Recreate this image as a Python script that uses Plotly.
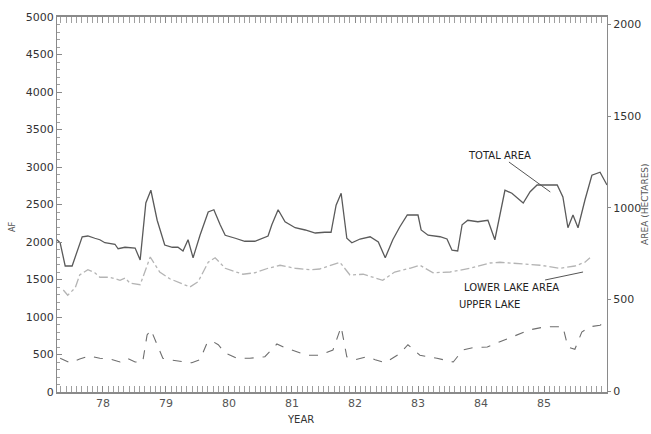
import plotly.graph_objects as go

# Total area (solid)
total_year = [77.27, 77.32, 77.40, 77.51, 77.67, 77.76, 77.87, 77.95, 78.03, 78.19, 78.24, 78.35, 78.51, 78.59,
              78.68, 78.76, 78.86, 78.98, 79.10, 79.19, 79.27, 79.35, 79.43, 79.54, 79.67, 79.76, 79.86, 79.94,
              80.10, 80.25, 80.41, 80.52, 80.62, 80.68, 80.78, 80.89, 81.05, 81.21, 81.37, 81.52, 81.62, 81.70,
              81.78, 81.87, 81.95, 82.08, 82.24, 82.37, 82.48, 82.60, 82.71, 82.83, 83.00, 83.05, 83.16, 83.35,
              83.46, 83.54, 83.63, 83.70, 83.79, 83.95, 84.11, 84.22, 84.30, 84.38, 84.49, 84.67, 84.78, 84.89,
              85.06, 85.21, 85.30, 85.38, 85.46, 85.54, 85.65, 85.76, 85.89, 86.00]
total_val = [2030, 1990, 1680, 1680, 2070, 2080, 2050, 2030, 1990, 1970, 1910, 1930, 1920, 1760,
             2520, 2690, 2290, 1960, 1930, 1930, 1880, 2030, 1790, 2090, 2400, 2430, 2230, 2090,
             2050, 2010, 2010, 2050, 2080, 2230, 2430, 2270, 2190, 2160, 2120, 2130, 2130, 2490,
             2650, 2050, 1990, 2040, 2070, 2000, 1790, 2030, 2200, 2360, 2360, 2160, 2090, 2070,
             2040, 1890, 1880, 2230, 2290, 2270, 2290, 2030, 2360, 2690, 2650, 2520, 2670, 2760,
             2760, 2760, 2600, 2190, 2360, 2190, 2560, 2890, 2930, 2760]

# Lower lake area (dash-dot, light)
lower_year = [77.37, 77.44, 77.56, 77.63, 77.76, 77.87, 77.95, 78.11, 78.27, 78.35, 78.43, 78.59, 78.75, 78.90,
              79.06, 79.22, 79.38, 79.51, 79.67, 79.78, 79.94, 80.22, 80.41, 80.62, 80.81, 81.05, 81.29, 81.44,
              81.60, 81.76, 81.92, 82.13, 82.44, 82.63, 82.87, 83.03, 83.24, 83.51, 83.83, 84.14, 84.30, 84.62,
              84.94, 85.25, 85.49, 85.65, 85.73]
lower_val = [1360, 1290, 1390, 1560, 1630, 1590, 1530, 1530, 1490, 1520, 1450, 1430, 1800, 1600,
             1510, 1450, 1400, 1470, 1730, 1790, 1650, 1570, 1590, 1650, 1690, 1650, 1630, 1640,
             1680, 1730, 1560, 1570, 1490, 1600, 1650, 1690, 1590, 1600, 1650, 1720, 1730, 1710,
             1690, 1650, 1680, 1730, 1790]

# Upper lake (dashed)
upper_year = [77.32, 77.48, 77.63, 77.79, 77.95, 78.11, 78.27, 78.38, 78.51, 78.63, 78.70, 78.76, 78.86, 78.95,
              79.06, 79.19, 79.30, 79.41, 79.54, 79.65, 79.73, 79.83, 79.94, 80.13, 80.33, 80.57, 80.76, 80.89,
              81.08, 81.24, 81.44, 81.65, 81.78, 81.87, 82.00, 82.19, 82.32, 82.48, 82.71, 82.84, 83.03, 83.30,
              83.56, 83.71, 83.87, 84.10, 84.30, 84.54, 84.78, 85.02, 85.30, 85.38, 85.49, 85.60, 85.73, 85.89,
              85.97]
upper_val = [450, 390, 440, 480, 450, 440, 400, 450, 400, 400, 760, 830, 630, 450,
             430, 410, 400, 390, 430, 650, 680, 630, 520, 450, 450, 470, 640, 590,
             530, 490, 490, 560, 870, 470, 430, 470, 430, 390, 510, 630, 490, 450,
             400, 560, 590, 600, 670, 750, 830, 870, 870, 600, 570, 800, 870, 890,
             930]

year_ticks = [78, 79, 80, 81, 82, 83, 84, 85]
year_labels = ["78", "79", "80", "81", "82", "83", "84", "85"]
af_ticks = [0, 500, 1000, 1500, 2000, 2500, 3000, 3500, 4000, 4500, 5000]
ha_ticks = [0, 500, 1000, 1500, 2000]

FONT = "DejaVu Sans"
TXT = "#333333"
AX = "#8a8a8a"

fig = go.Figure()
fig.add_trace(go.Scatter(x=lower_year, y=lower_val, mode="lines",
                         line=dict(color="#b4b4b4", width=1.3, dash="dashdot"), name="LOWER LAKE AREA"))
fig.add_trace(go.Scatter(x=upper_year, y=upper_val, mode="lines",
                         line=dict(color="#6e6e6e", width=1.1, dash="dash"), name="UPPER LAKE"))
fig.add_trace(go.Scatter(x=total_year, y=total_val, mode="lines",
                         line=dict(color="#5a5a5a", width=1.3), name="TOTAL AREA"))
# invisible trace to activate right axis
fig.add_trace(go.Scatter(x=[year_ticks[0]], y=[ha_ticks[0]], yaxis="y2", mode="markers",
                         marker=dict(opacity=0), showlegend=False, hoverinfo="skip"))

fig.update_layout(
    width=651, height=434,
    margin=dict(l=57, r=44, t=17, b=42, autoexpand=False),
    paper_bgcolor="white", plot_bgcolor="white",
    showlegend=False,
    font=dict(family=FONT, size=11, color=TXT),
    xaxis=dict(range=[77.27, 86.0], tickmode="array", tickvals=year_ticks, ticktext=year_labels,
               automargin=False,
               showgrid=False, zeroline=False, showline=True, linecolor=AX, linewidth=1.5,
               mirror="allticks", ticks="inside", ticklen=6, tickcolor=AX,
               minor=dict(dtick=1/12, tick0=78, ticks="inside", ticklen=3, tickcolor="#a0a0a0", showgrid=False),
               tickfont=dict(size=11, color="#555555")),
    yaxis=dict(range=[0, 5000], tickvals=af_ticks, showgrid=False, zeroline=False, automargin=False,
               showline=True, linecolor=AX, linewidth=1.2, ticks="inside", ticklen=5, tickcolor=AX,
               minor=dict(dtick=100, ticks="inside", ticklen=3, tickcolor="#a0a0a0", showgrid=False),
               tickfont=dict(size=11, color=TXT)),
    yaxis2=dict(overlaying="y", side="right", range=[-5, 2040], tickvals=ha_ticks, automargin=False,
                showgrid=False, zeroline=False, showline=True, linecolor=AX, linewidth=1.2,
                ticks="outside", ticklen=3, tickcolor=AX, tickfont=dict(size=11, color=TXT)),
    annotations=[
        dict(text="AF", xref="paper", yref="paper", x=-0.082, y=0.44, xanchor="center", textangle=-90,
             showarrow=False, font=dict(size=8, color="#555555")),
        dict(text="AREA (HECTARES)", xref="paper", yref="paper", x=1.068, y=0.5, xanchor="center",
             textangle=-90, showarrow=False, font=dict(size=9, color="#555555")),
        dict(text="YEAR", xref="paper", yref="paper", x=0.442, y=-0.093, showarrow=False,
             font=dict(size=10, color=TXT)),
        dict(text="TOTAL AREA", x=85.10, y=2667, ax=84.29, ay=3160, axref="x", ayref="y",
             showarrow=True, arrowhead=0, arrowwidth=1, arrowcolor="#555555", font=dict(size=10, color="#222222")),
        dict(text="LOWER LAKE AREA", x=85.62, y=1600, ax=84.49, ay=1400, axref="x", ayref="y",
             showarrow=True, arrowhead=0, arrowwidth=1, arrowcolor="#555555", font=dict(size=10, color="#222222")),
        dict(text="UPPER LAKE", x=84.13, y=1173, showarrow=False, font=dict(size=10, color="#222222")),
    ],
)

fig.write_html("out.html", config={"displayModeBar": False},
               post_script="document.body.style.margin='0';document.body.style.overflow='hidden';")
